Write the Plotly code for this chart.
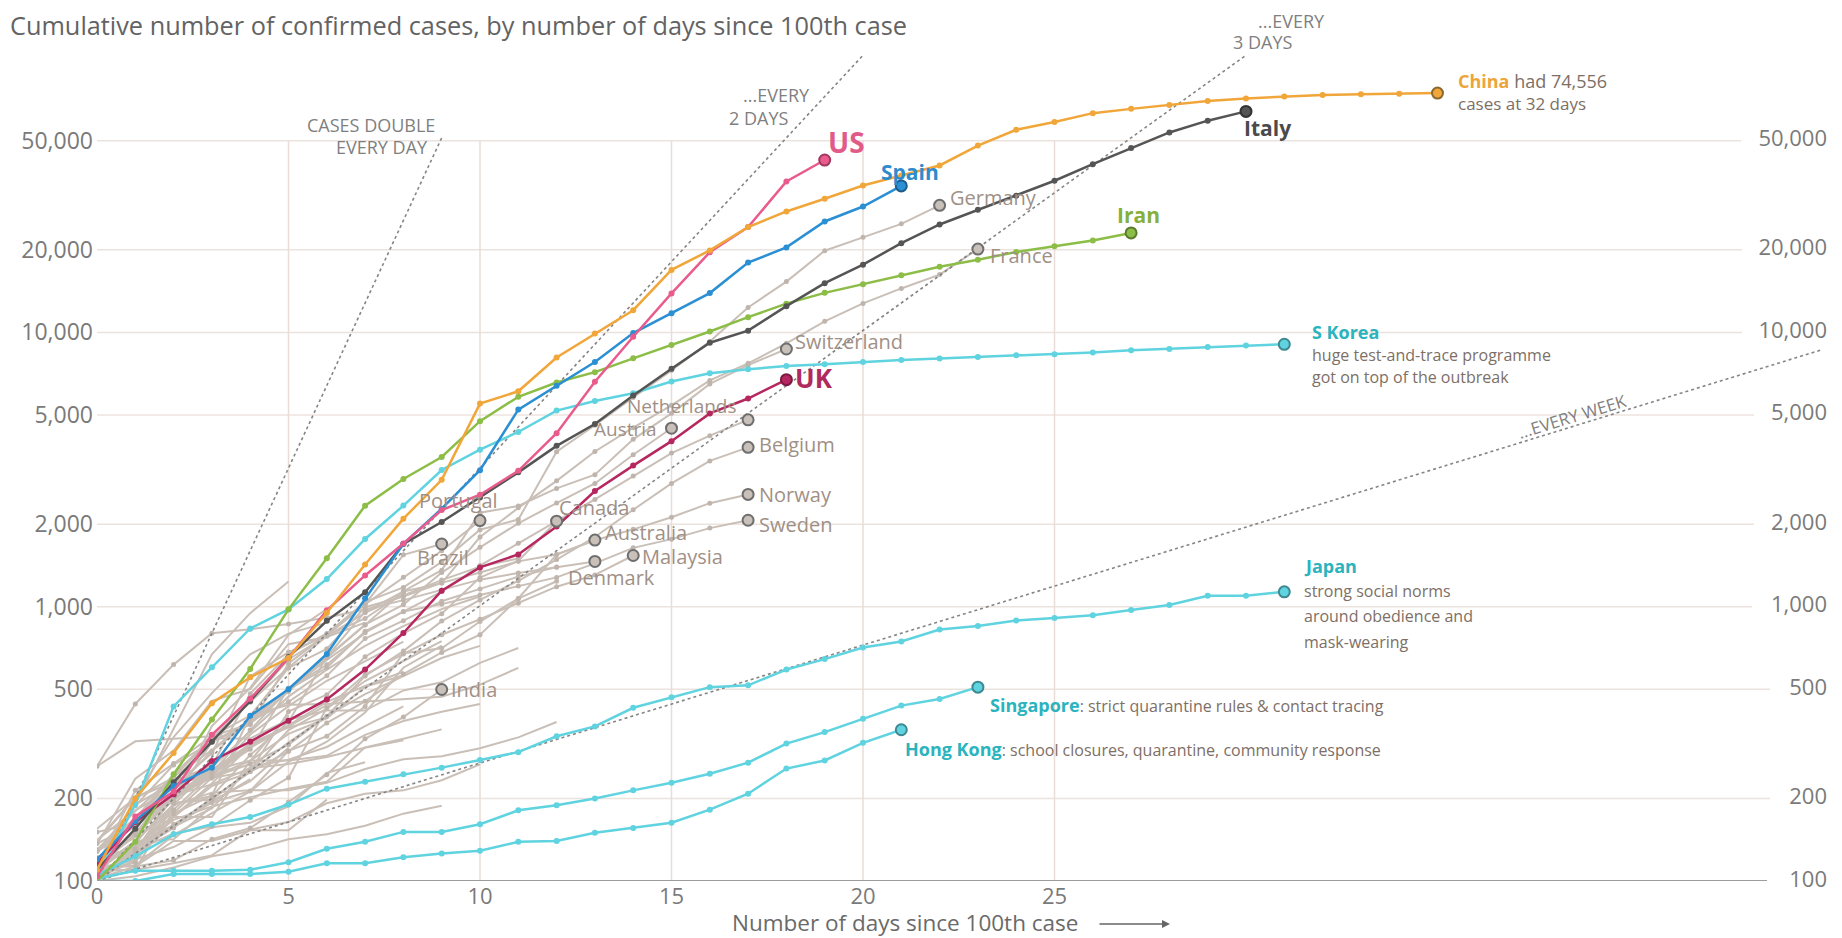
import math
import plotly.graph_objects as go

# ---------------- data ----------------
TITLE = "Cumulative number of confirmed cases, by number of days since 100th case"
X_TITLE = "Number of days since 100th case"
X_TICKS = [0, 5, 10, 15, 20, 25]
Y_TICKS = [100, 200, 500, 1000, 2000, 5000, 10000, 20000, 50000]
Y_TICK_TEXT = ["100", "200", "500", "1,000", "2,000", "5,000", "10,000", "20,000", "50,000"]

# highlighted countries (value on day 0, 1, 2, ...)
china = [110, 200, 293, 445, 553, 650, 950, 1426, 2094, 2900, 5500, 6100, 8100, 9900, 12050,
         16900, 19900, 24200, 27600, 30700, 34300, 37300, 40600, 48000, 54800, 58500, 63000,
         65300, 67500, 69700, 71300, 72400, 73300, 73900, 74200, 74556]
italy = [110, 155, 229, 322, 453, 655, 888, 1128, 1694, 2036, 2502, 3089, 3858, 4636, 5883,
         7375, 9172, 10149, 12462, 15113, 17660, 21157, 24747, 27980, 31506, 35713, 41035,
         47021, 53578, 59138, 63927]
us = [104, 172, 212, 341, 462, 650, 970, 1300, 1700, 2250, 2560, 3130, 4290, 6610, 9640,
      13870, 19600, 24200, 35500, 42500]
spain = [120, 165, 222, 259, 400, 500, 673, 1073, 1695, 2277, 3146, 5232, 6391, 7798, 9942,
         11748, 13910, 17963, 20410, 25374, 28768, 34200]
iran = [100, 139, 245, 388, 593, 978, 1501, 2336, 2922, 3513, 4747, 5823, 6566, 7161, 8042,
        9000, 10075, 11364, 12729, 13938, 14991, 16169, 17361, 18407, 19644, 20610, 21638, 23049]
uk = [116, 164, 207, 274, 322, 384, 459, 590, 802, 1144, 1391, 1551, 1960, 2642, 3269, 4014,
      5067, 5741, 6726]
s_korea = [104, 190, 433, 602, 833, 977, 1261, 1766, 2337, 3150, 3736, 4335, 5186, 5621, 6000,
           6620, 7100, 7340, 7540, 7650, 7800, 7930, 8040, 8140, 8260, 8330, 8450, 8600, 8700,
           8850, 8950, 9050]
japan = [105, 123, 148, 161, 171, 190, 217, 230, 245, 259, 276, 295, 337, 366, 428, 468, 509,
         517, 590, 644, 710, 747, 826, 850, 890, 910, 930, 972, 1014, 1097, 1097, 1133]
singapore = [102, 109, 109, 109, 110, 117, 131, 139, 151, 151, 161, 181, 189, 200, 214, 228,
             246, 270, 317, 349, 390, 436, 461, 509]
hong_kong = [100, 100, 106, 106, 106, 108, 116, 116, 122, 126, 129, 139, 140, 150, 156, 163,
             182, 208, 257, 275, 319, 356]

# labelled grey countries
germany = [130, 159, 196, 262, 482, 670, 799, 1040, 1176, 1457, 1908, 2078, 3675, 4585, 5795,
           7272, 9257, 12327, 15320, 19848, 22213, 24873, 29056]
france = [100, 130, 191, 204, 288, 380, 656, 959, 1136, 1219, 1794, 2293, 2876, 3681, 4496,
          5423, 6683, 7715, 9124, 10970, 12758, 14463, 16243, 20123]
switzerland = [114, 214, 268, 337, 374, 491, 652, 858, 1139, 1359, 2200, 2330, 2700, 3028, 4075,
               5070, 6490, 7600, 8700]
netherlands = [128, 188, 265, 321, 382, 503, 614, 804, 959, 1135, 1413, 1705, 2051, 2460, 2994,
               3631, 4204, 4800]
austria = [104, 131, 182, 246, 302, 504, 655, 860, 1018, 1332, 1646, 2013, 2388, 2814, 3582, 4474]
belgium = [109, 169, 200, 239, 267, 314, 399, 559, 689, 886, 1058, 1243, 1486, 1795, 2257, 2815,
           3401, 3810]
norway = [113, 147, 176, 205, 400, 598, 702, 996, 1090, 1221, 1333, 1463, 1550, 1746, 1914, 2118,
          2385, 2566]
sweden = [137, 161, 203, 248, 355, 500, 599, 814, 961, 1022, 1103, 1190, 1279, 1439, 1639, 1763,
          1934, 2066]
portugal = [112, 169, 245, 331, 448, 642, 785, 1020, 1280, 1600, 2060]
brazil = [151, 162, 200, 321, 372, 621, 793, 1021, 1546, 1693]
canada = [108, 117, 193, 198, 252, 415, 478, 657, 800, 943, 1277, 1469, 2050]
australia = [107, 128, 156, 200, 250, 297, 377, 452, 568, 681, 791, 1071, 1549, 1749]
denmark = [262, 442, 615, 801, 827, 864, 914, 977, 1057, 1151, 1255, 1326, 1395, 1462]
malaysia = [117, 129, 149, 158, 197, 238, 428, 566, 673, 790, 900, 1030, 1183, 1306, 1537]
india = [102, 113, 119, 142, 156, 194, 244, 330, 396, 499]

# other (unlabelled) countries
others_with_dots = [
    [129, 169, 223, 292, 557, 683, 785, 906, 1125],
    [100, 126, 161, 193, 213, 298, 337, 433, 677, 705, 883, 1071, 1238],
    [116, 150, 214, 298, 383, 450, 560, 765, 889, 1047, 1161, 1287, 1394],
    [120, 165, 240, 330, 450, 600, 780, 950, 1100, 1250, 1400, 1500],
]
others = [
    [100, 191, 359, 670, 947, 1236],
    [111, 168, 199, 367, 506, 789, 981],
    [140, 203, 335, 484, 670, 798, 875],
    [136, 236, 299, 454, 501, 730, 776, 875],
    [117, 190, 228, 331, 331, 387, 418, 418, 495, 530, 624, 707],
    [262, 323, 330, 337, 401, 439, 442, 452, 460, 470, 520, 598],
    [141, 181, 219, 253, 275, 275, 286, 341, 383, 414, 442],
    [109, 110, 189, 210, 214, 214, 228, 256, 278, 285, 305, 334, 380],
    [100, 104, 112, 123, 130, 142, 148, 159, 176, 188],
    [109, 120, 133, 157, 163, 187, 248, 271],
    [103, 119, 177, 238, 251, 355, 425, 536, 634, 749],
    [155, 201, 238, 238, 342, 434, 537, 632, 746],
    [115, 171, 205, 225, 258, 267, 283, 306, 326],
    [103, 118, 171, 171, 274, 344, 392, 511, 562],
    [114, 114, 147, 177, 212, 272, 322, 411, 599, 721],
    [117, 134, 172, 227, 311, 369, 450, 514, 579],
    [123, 131, 158, 184, 260, 277, 308, 367, 433],
    [111, 140, 142, 187, 202, 217, 230, 307, 330, 357],
    [117, 145, 234, 234, 318, 363, 395],
    [114, 147, 199, 253, 306, 367, 438],
    [118, 164, 203, 251, 316, 367],
    [101, 110, 116, 124, 154, 164, 192, 208, 214, 233, 266],
    [116, 150, 202, 240, 274, 402],
    [113, 113, 140, 140, 153, 153, 198],
    [128, 158, 225, 266],
    [109, 137, 200, 245, 313],
    [102, 128, 158, 196, 231, 306],
    [105, 128, 206, 254, 315],
    [103, 135, 171, 222, 249],
    [115, 136, 160, 194, 235],
    [139, 201, 230, 264],
    [103, 131, 167, 187],
    [108, 140, 190, 260, 350, 470, 590, 720, 850, 980, 1090],
    [130, 180, 240, 300, 390, 500, 640, 800],
    [105, 125, 160, 200, 250, 320, 400, 480, 560, 650, 720],
]

# doubling-time guide lines: doubling period (days) and the day where each line stops
DOUBLING_PERIODS = [1, 2, 3, 7]
GUIDE_END_DAYS = [9, 20, 30, 45]

# ---------------- geometry / style ----------------
# positions below are given in screen pixels of the target picture; the page body
# has an 8px margin, so the figure itself is 8px smaller and shifted.
OFF = 8
W_SCREEN, H_SCREEN = 1842, 938
W, H = W_SCREEN - OFF, H_SCREEN - OFF
X0_PX = 97          # screen x of day 0
Y100_PX = 881       # screen y of 100 cases
TOP_PX = 30         # screen y of top of plotting area
PX_PER_DAY = 38.3
PX_PER_DECADE = 274.3
ML = X0_PX - OFF
MT = TOP_PX - OFF
MB = H - (Y100_PX - OFF)
X_MAX = (W - ML) / PX_PER_DAY
Y_TOP = 2 + (Y100_PX - TOP_PX) / PX_PER_DECADE
FONT = "Open Sans"


def day_at(px):
    return (px - X0_PX) / PX_PER_DAY


def logy_at(py):
    return 2 + (Y100_PX - py) / PX_PER_DECADE


def paper_y(py):
    return (Y100_PX - py) / (Y100_PX - TOP_PX)


GRID_END_PX = [1767, 1770, 1770, 1752, 1754, 1754, 1742, 1742, 1741]
RIGHT_LABEL_PX = 1827

GRID_COL = "#ece3de"
GREY_LINE = "#c9bfb7"
GREY_TEXT = "#9f9086"
NOTE_TEXT = "#7d6f66"
CYAN = "#5fd3df"
CYAN_TEXT = "#2bb3be"

fig = go.Figure()


def add_trace(x, y, **kw):
    fig.add_trace(go.Scatter(x=x, y=y, hoverinfo="skip", showlegend=False, **kw))


# grid lines
for v, end_px in zip(Y_TICKS, GRID_END_PX):
    if v == 100:
        continue
    add_trace([0, day_at(end_px)], [v, v], mode="lines", line=dict(color=GRID_COL, width=1.5))
for d in X_TICKS[1:]:
    add_trace([d, d], [Y_TICKS[0], Y_TICKS[-1]], mode="lines", line=dict(color="#eadcd6", width=1.5))

# unlabelled grey countries
for vals in others:
    add_trace(list(range(len(vals))), vals, mode="lines", line=dict(color=GREY_LINE, width=2))
for vals in others_with_dots:
    add_trace(list(range(len(vals))), vals, mode="lines+markers",
              line=dict(color=GREY_LINE, width=2), marker=dict(size=5, color="#c2b8b0"))

grey_named = [germany, france, switzerland, netherlands, austria, belgium, norway, sweden,
              portugal, brazil, canada, australia, denmark, malaysia, india]
for vals in grey_named:
    add_trace(list(range(len(vals))), vals, mode="lines+markers",
              line=dict(color=GREY_LINE, width=2), marker=dict(size=5, color="#bfb5ad"))

# doubling guide lines
for p, end in zip(DOUBLING_PERIODS, GUIDE_END_DAYS):
    xs = [0, end]
    ys = [100 * 2 ** (x / p) for x in xs]
    add_trace(xs, ys, mode="lines",
              line=dict(color="#858585", width=1.6, dash="dot" if p == 7 else "3px,3px"),
              cliponaxis=False)

# highlighted countries
highlight = [
    (hong_kong, CYAN, "#3d8891"),
    (singapore, CYAN, "#3d8891"),
    (japan, CYAN, "#3d8891"),
    (s_korea, CYAN, "#3d8891"),
    (uk, "#b5275e", "#7a1a40"),
    (iran, "#8cbd46", "#5b7a2b"),
    (italy, "#555555", "#333333"),
    (spain, "#2b8fd3", "#1c5d8c"),
    (us, "#ea5b8d", "#a0375e"),
    (china, "#f1a63a", "#8a6a30"),
]
for vals, col, _ in highlight:
    add_trace(list(range(len(vals))), vals, mode="lines+markers",
              line=dict(color=col, width=2.5), marker=dict(size=6, color=col))

# end-point circles
for vals in grey_named:
    add_trace([len(vals) - 1], [vals[-1]], mode="markers",
              marker=dict(size=11, color="#c8c0b9", line=dict(color="#6e6e6e", width=2)))
for vals, col, dark in highlight:
    add_trace([len(vals) - 1], [vals[-1]], mode="markers",
              marker=dict(size=11, color=col, line=dict(color=dark, width=2)))

# bottom axis line
add_trace([0, day_at(GRID_END_PX[0])], [100, 100], mode="lines",
          line=dict(color="#9c9c9c", width=2.2), cliponaxis=False)

# right-hand tick labels
add_trace([day_at(RIGHT_LABEL_PX)] * len(Y_TICKS), Y_TICKS, mode="text", text=Y_TICK_TEXT,
          textposition="middle left", textfont=dict(family=FONT, size=22, color="#7a7a7a"),
          cliponaxis=False)


# ---------------- annotations ----------------
def lab(text, px, py, size=20, color=GREY_TEXT, xanchor="left", bold=False):
    fig.add_annotation(x=day_at(px), y=logy_at(py), xref="x", yref="y",
                       text=f"<b>{text}</b>" if bold else text, showarrow=False,
                       xanchor=xanchor, yanchor="middle", align="left", borderpad=0,
                       font=dict(family=FONT, size=size, color=color))


def plab(text, px, py, size=18, color="#7f7f7f", xanchor="right"):
    fig.add_annotation(x=day_at(px), y=paper_y(py), xref="x", yref="paper", text=text,
                       showarrow=False, xanchor=xanchor, yanchor="middle", borderpad=0,
                       font=dict(family=FONT, size=size, color=color))


# guide labels
plab("CASES DOUBLE", 436, 125)
plab("EVERY DAY", 429, 147)
plab("...EVERY", 811, 95)
plab("2 DAYS", 789, 118)
plab("...EVERY", 1326, 21)
plab("3 DAYS", 1293, 42)
fig.add_annotation(x=38.5, y=math.log10(4930), xref="x", yref="y", text="...EVERY WEEK",
                   showarrow=False, textangle=-17, borderpad=0,
                   font=dict(family=FONT, size=17, color="#808080"))

# highlighted labels
lab("US", 827, 142, size=28, color="#e15b89", bold=True)
lab("Spain", 880, 172, size=21, color="#2f8ccc", bold=True)
lab("Italy", 1243, 128, size=21, color="#4b4b4b", bold=True)
lab("Iran", 1116, 215, size=21, color="#86b03a", bold=True)
lab("UK", 794, 378, size=26, color="#b02a5d", bold=True)
lab("<b><span style='color:#eda53a'>China</span></b> had 74,556", 1457, 81, size=18, color=NOTE_TEXT)
lab("cases at 32 days", 1457, 103, size=17, color=NOTE_TEXT)
lab("S Korea", 1311, 332, size=18, color=CYAN_TEXT, bold=True)
lab("huge test-and-trace programme", 1311, 355, size=16, color=NOTE_TEXT)
lab("got on top of the outbreak", 1311, 377, size=16, color=NOTE_TEXT)
lab("Japan", 1303, 566, size=18, color=CYAN_TEXT, bold=True)
lab("strong social norms", 1303, 591, size=16, color=NOTE_TEXT)
lab("around obedience and", 1303, 616, size=16, color=NOTE_TEXT)
lab("mask-wearing", 1303, 642, size=16, color=NOTE_TEXT)
lab("<b><span style='color:#2bb3be;font-size:18px'>Singapore</span></b>: strict quarantine rules &amp; contact tracing",
    989, 705, size=16, color=NOTE_TEXT)
lab("<b><span style='color:#2bb3be;font-size:18px'>Hong Kong</span></b>: school closures, quarantine, community response",
    904, 749, size=16, color=NOTE_TEXT)

# grey labels
lab("Germany", 949, 197)
lab("France", 989, 255)
lab("Switzerland", 794, 341)
lab("Netherlands", 738, 406, size=19, xanchor="right")
lab("Austria", 658, 429, size=19, xanchor="right")
lab("Belgium", 758, 444)
lab("Norway", 758, 494)
lab("Sweden", 758, 524)
lab("Portugal", 458, 500, xanchor="center")
lab("Brazil", 443, 557, xanchor="center")
lab("Canada", 558, 507)
lab("Australia", 604, 532)
lab("Malaysia", 641, 556)
lab("Denmark", 567, 577)
lab("India", 450, 689)

# title and axis title
fig.add_annotation(x=(9 - X0_PX) / (W - ML), y=paper_y(25), xref="paper", yref="paper", text=TITLE,
                   showarrow=False, xanchor="left", yanchor="middle", borderpad=0,
                   font=dict(family=FONT, size=25.3, color="#636363"))
fig.add_annotation(x=day_at(905), y=paper_y(922), xref="x", yref="paper", text=X_TITLE,
                   showarrow=False, xanchor="center", yanchor="middle",
                   font=dict(family=FONT, size=22.5, color="#6a6a6a"))
fig.add_annotation(x=day_at(1170), y=paper_y(924), xref="x", yref="paper", text="",
                   showarrow=True, ax=-72, ay=0, arrowhead=2, arrowsize=1, arrowwidth=1.6,
                   arrowcolor="#666666")

fig.update_layout(
    width=W, height=H, template="none",
    margin=dict(l=ML, r=0, t=MT, b=MB, autoexpand=False),
    paper_bgcolor="white", plot_bgcolor="white",
    showlegend=False,
    xaxis=dict(range=[0, X_MAX], tickvals=X_TICKS, ticktext=[str(t) for t in X_TICKS],
               showgrid=False, zeroline=False, showline=False, ticks="", automargin=False,
               ticklabelstandoff=0,
               tickfont=dict(family=FONT, size=22, color="#7a7a7a")),
    yaxis=dict(type="log", range=[2, Y_TOP], tickvals=Y_TICKS, ticktext=Y_TICK_TEXT,
               showgrid=False, zeroline=False, showline=False, ticks="", automargin=False,
               ticklabelstandoff=3,
               tickfont=dict(family=FONT, size=23, color="#7a7a7a")),
)

fig.write_html("out.html")
